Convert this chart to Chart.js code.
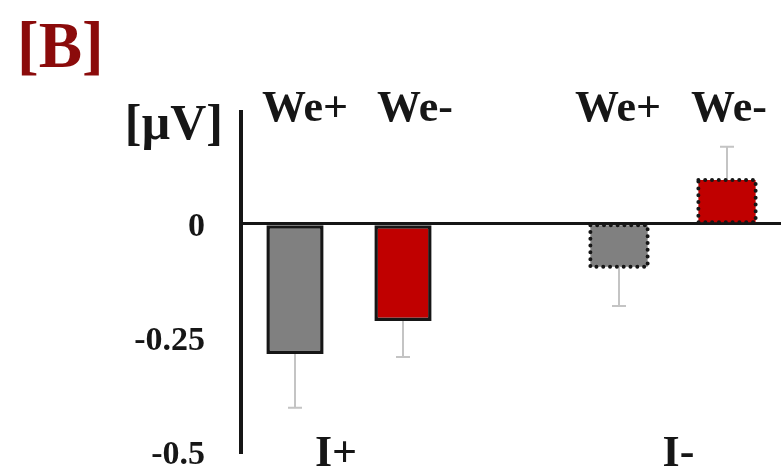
<!DOCTYPE html>
<html>
<head>
<meta charset="utf-8">
<script src="https://cdn.jsdelivr.net/npm/chart.js@4/dist/chart.umd.min.js"></script>
<style>
  html, body { margin: 0; padding: 0; background: #fff; overflow: hidden; }
  #wrap { position: relative; width: 781px; height: 472px; }
</style>
</head>
<body>
<div id="wrap"><canvas id="c" width="781" height="472"></canvas></div>
<script>
// Conditions along the x axis (an empty slot separates the two groups)
const conditions = ['We+', 'We-', '', 'We+', 'We-'];
const groups = ['I+', 'I-'];
// Mean amplitude [µV] and its error for each bar
const means = [-0.285, -0.213, null, -0.094, 0.096];
const errors = [0.118, 0.079, null, 0.086, 0.073];
const yTicks = [0, -0.25, -0.5];

// Styling per bar
const fills = ['#808080', '#c00000', 'rgba(0,0,0,0)', '#808080', '#c00000'];
const dotted = [false, false, false, true, true];
// small horizontal nudges for the condition labels (px)
const labelNudge = [10, 12, 0, -1, 2];

const serif = '"Liberation Serif", "Times New Roman", serif';
const ink = '#161616';

const annotate = {
  id: 'annotate',
  afterDatasetsDraw(chart) {
    const { ctx } = chart;
    const yScale = chart.scales.y;
    const meta = chart.getDatasetMeta(0);

    // error whiskers, pointing away from zero
    ctx.save();
    ctx.strokeStyle = '#c4c4c4';
    ctx.lineWidth = 2;
    meta.data.forEach((bar, i) => {
      if (means[i] == null) return;
      const tip = means[i] + Math.sign(means[i]) * errors[i];
      const y1 = yScale.getPixelForValue(tip);
      ctx.beginPath();
      ctx.moveTo(bar.x, bar.y);
      ctx.lineTo(bar.x, y1);
      ctx.moveTo(bar.x - 7, y1);
      ctx.lineTo(bar.x + 7, y1);
      ctx.stroke();
    });

    // dotted outlines
    ctx.strokeStyle = ink;
    ctx.lineWidth = 4;
    ctx.lineCap = 'round';
    ctx.setLineDash([0.01, 6.8]);
    meta.data.forEach((bar, i) => {
      if (!dotted[i] || means[i] == null) return;
      const left = bar.x - bar.width / 2;
      const top = Math.min(bar.y, bar.base);
      const h = Math.abs(bar.base - bar.y);
      ctx.strokeRect(left, top, bar.width, h);
    });
    ctx.restore();
  },
  afterDraw(chart) {
    const { ctx } = chart;
    const xScale = chart.scales.x;
    const meta = chart.getDatasetMeta(0);
    ctx.save();

    // panel tag
    ctx.fillStyle = '#8b0b0b';
    ctx.font = `bold 65px ${serif}`;
    ctx.textAlign = 'left';
    ctx.textBaseline = 'alphabetic';
    ctx.fillText('[B]', 17, 67);

    // unit
    ctx.fillStyle = ink;
    ctx.font = `bold 50px ${serif}`;
    ctx.textAlign = 'right';
    ctx.fillText('[µV]', 223, 139);

    // condition labels above each bar
    ctx.font = `bold 44px ${serif}`;
    ctx.textAlign = 'center';
    meta.data.forEach((bar, i) => {
      if (!conditions[i]) return;
      ctx.fillText(conditions[i], bar.x + labelNudge[i], 121);
    });

    // group labels below
    const groupAt = [0.38, 3.55];
    groups.forEach((g, k) => {
      ctx.fillText(g, xScale.getPixelForValue(groupAt[k]), 466);
    });
    ctx.restore();
  }
};

new Chart(document.getElementById('c'), {
  type: 'bar',
  data: {
    labels: conditions,
    datasets: [{
      data: means,
      backgroundColor: fills,
      borderColor: ink,
      borderWidth: dotted.map(d => (d ? 0 : 3.5)),
      borderSkipped: false,
      barPercentage: 0.53,
      categoryPercentage: 1
    }]
  },
  options: {
    responsive: false,
    animation: false,
    devicePixelRatio: 1,
    layout: { padding: { top: 112, bottom: 20, left: 0, right: 0 } },
    plugins: { legend: { display: false }, tooltip: { enabled: false } },
    scales: {
      x: { display: false, offset: true },
      y: {
        min: -0.5,
        max: 0.245,
        afterFit(s) {
          s.width = 241;
          s.paddingTop = 0;
          s.paddingBottom = 0;
        },
        afterBuildTicks(s) { s.ticks = yTicks.map(v => ({ value: v })); },
        border: { display: true, color: ink, width: 4 },
        grid: {
          drawTicks: false,
          color: c => (c.tick && c.tick.value === 0 ? ink : 'rgba(0,0,0,0)'),
          lineWidth: c => (c.tick && c.tick.value === 0 ? 3 : 0)
        },
        ticks: {
          padding: 36,
          labelOffset: 3,
          color: ink,
          font: { family: serif, size: 34, weight: 'bold' },
          callback: v => String(v)
        }
      }
    }
  },
  plugins: [annotate]
});
</script>
</body>
</html>
